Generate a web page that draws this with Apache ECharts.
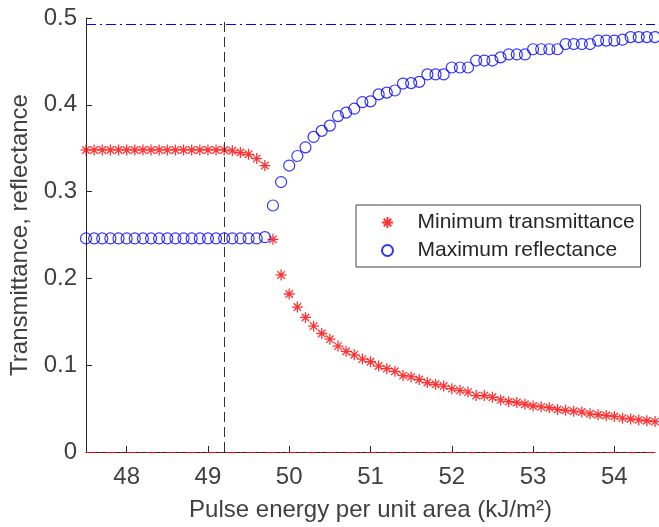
<!DOCTYPE html>
<html>
<head>
<meta charset="utf-8">
<script src="https://cdn.jsdelivr.net/npm/echarts@6/dist/echarts.min.js"></script>
<style>html,body{margin:0;padding:0;background:#fff}#c{width:659px;height:527px}</style>
</head>
<body>
<div id="c"></div>
<script>
var energy = [47.5,47.6,47.7,47.8,47.9,48.0,48.1,48.2,48.3,48.4,48.5,48.6,48.7,48.8,48.9,49.0,49.1,49.2,49.3,49.4,49.5,49.6,49.7,49.8,49.9,
  50.0,50.1,50.2,50.3,50.4,50.5,50.6,50.7,50.8,50.9,51.0,51.1,51.2,51.3,51.4,51.5,51.6,51.7,51.8,51.9,
  52.0,52.1,52.2,52.3,52.4,52.5,52.6,52.7,52.8,52.9,53.0,53.1,53.2,53.3,53.4,53.5,53.6,53.7,53.8,53.9,
  54.0,54.1,54.2,54.3,54.4,54.5];
var minTransmittance = [0.348,0.348,0.348,0.348,0.348,0.348,0.348,0.348,0.348,0.348,0.348,0.348,0.348,0.348,0.348,0.348,0.348,0.348,
  0.347,0.345,0.343,0.338,0.330,0.245,0.204,
  0.182,0.167,0.155,0.145,0.1365,0.130,0.122,0.116,0.112,0.107,
  0.104,0.099,0.096,0.093,0.088,0.0865,0.0835,0.080,0.078,0.076,
  0.073,0.071,0.069,0.065,0.065,0.063,0.060,0.058,0.057,0.055,
  0.053,0.052,0.051,0.049,0.048,0.047,0.046,0.044,0.043,0.042,
  0.041,0.039,0.038,0.037,0.036,0.035];
var maxReflectance = [0.246,0.246,0.246,0.246,0.246,0.246,0.246,0.246,0.246,0.246,0.246,0.246,0.246,0.246,0.246,0.246,0.246,0.246,0.246,0.246,0.246,0.246,
  0.2475,0.284,0.311,
  0.330,0.341,0.351,0.363,0.370,0.376,0.387,0.391,0.3955,0.403,
  0.404,0.412,0.414,0.4165,0.4245,0.425,0.4264,0.435,0.435,0.435,
  0.443,0.443,0.443,0.451,0.451,0.451,0.4546,0.458,0.458,0.458,
  0.464,0.464,0.464,0.464,0.470,0.470,0.470,0.470,0.474,0.474,
  0.474,0.475,0.478,0.478,0.478,0.478];
var xTicks = [48,49,50,51,52,53,54];
var yTicks = [0,0.1,0.2,0.3,0.4,0.5];
var thresholdEnergy = 49.2;
var reflectanceLimit = 0.493;
var transmittanceLimit = 0;

function pairs(xs, ys){ return xs.map(function(x,i){ return [x, ys[i]]; }); }

var axisColor = '#262626';
var textColor = '#404040';
var font = 'Liberation Sans, Arial, Helvetica, sans-serif';
var starPath = 'path://M5 0L5 10M0 5L10 5M1.6 1.6L8.4 8.4M1.6 8.4L8.4 1.6';

var chart = echarts.init(document.getElementById('c'), null, {renderer:'canvas'});
chart.setOption({
  animation: false,
  backgroundColor: '#fff',
  textStyle: {fontFamily: font},
  grid: {left: 86, right: 4, top: 18, bottom: 72, containLabel: false},
  xAxis: {
    type: 'value', min: 47.5, max: 54.5,
    name: 'Pulse energy per unit area (kJ/m²)', nameLocation: 'middle', nameGap: 46,
    nameTextStyle: {fontSize: 24, color: textColor, fontFamily: font},
    axisLine: {show: true, lineStyle: {color: axisColor, width: 1}},
    axisTick: {show: true, inside: true, length: 6, customValues: xTicks, lineStyle: {color: axisColor}},
    axisLabel: {customValues: xTicks, fontSize: 24, color: textColor, margin: 13, fontFamily: font},
    splitLine: {show: false}
  },
  yAxis: {
    type: 'value', min: 0, max: 0.5, interval: 0.1,
    name: 'Transmittance, reflectance', nameLocation: 'middle', nameGap: 48,
    nameTextStyle: {fontSize: 24, color: textColor, fontFamily: font},
    axisLine: {show: true, lineStyle: {color: axisColor, width: 1}},
    axisTick: {show: true, inside: true, length: 6, customValues: yTicks, lineStyle: {color: axisColor}},
    axisLabel: {customValues: yTicks, fontSize: 24, color: textColor, margin: 9, fontFamily: font},
    splitLine: {show: false}
  },
  legend: {
    orient: 'vertical', left: 356, top: 205,
    padding: [7, 6, 6, 25], itemWidth: 50, itemHeight: 11, itemGap: 7,
    backgroundColor: '#fff', borderColor: '#404040', borderWidth: 1,
    textStyle: {fontSize: 21, lineHeight: 20, color: axisColor, fontFamily: font},
    data: ['Minimum transmittance', 'Maximum reflectance']
  },
  series: [
    {
      name: 'Minimum transmittance', type: 'scatter', clip: false,
      data: pairs(energy, minTransmittance),
      symbol: starPath, symbolSize: 11,
      itemStyle: {color: '#ff0000', borderColor: '#ff0000', borderWidth: 1.3},
      markLine: {
        silent: true, symbol: 'none', label: {show: false},
        data: [
          [{coord: [47.5, transmittanceLimit]}, {coord: [54.5, transmittanceLimit]}]
        ],
        lineStyle: {color: '#ff0000', width: 1, type: [10, 4, 2, 4]}
      }
    },
    {
      name: 'Maximum reflectance', type: 'scatter', clip: false,
      data: pairs(energy, maxReflectance),
      symbol: 'circle', symbolSize: 11,
      itemStyle: {color: 'rgba(0,0,0,0)', borderColor: '#0000ff', borderWidth: 1.2},
      markLine: {
        silent: true, symbol: 'none', label: {show: false},
        data: [
          [{coord: [47.5, reflectanceLimit]}, {coord: [54.5, reflectanceLimit], lineStyle: {color: '#0000ff', width: 1, type: [10, 4, 2, 4]}}],
          [{coord: [thresholdEnergy, 0]}, {coord: [thresholdEnergy, 0.5], lineStyle: {color: '#333333', width: 1, type: [10, 5]}}]
        ]
      }
    }
  ]
});
</script>
</body>
</html>
